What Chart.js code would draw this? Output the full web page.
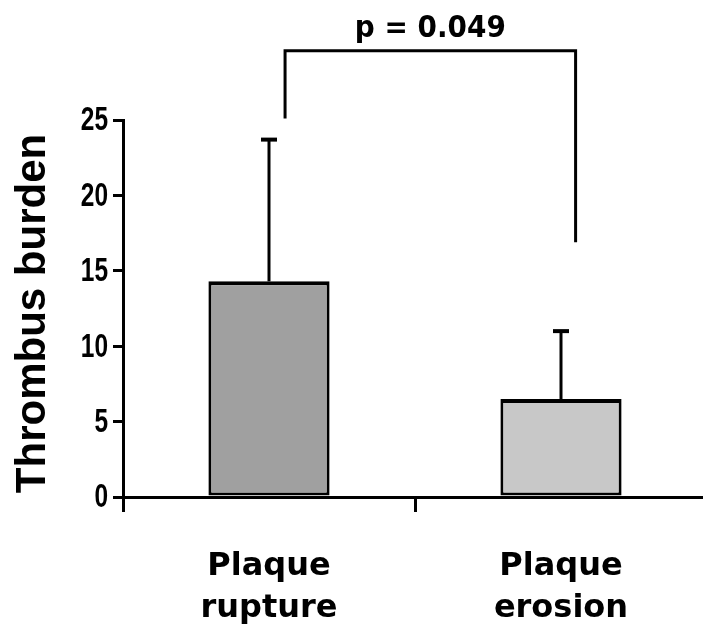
<!DOCTYPE html>
<html>
<head>
<meta charset="utf-8">
<script src="https://cdn.jsdelivr.net/npm/chart.js@4/dist/chart.umd.min.js"></script>
<style>
  html, body { margin: 0; padding: 0; background: #fff; overflow: hidden; }
  #wrap { width: 707px; height: 637px; }
</style>
</head>
<body>
<div id="wrap"><canvas id="thrombusChart" width="707" height="637"></canvas></div>
<script>
// data
const categories = [["Plaque", "rupture"], ["Plaque", "erosion"]];
const meanBurden = [14.3, 6.5];
const sdBurden = [9.4, 4.5];
const barColors = ["#a0a0a0", "#c8c8c8"];
const yTicks = [0, 5, 10, 15, 20, 25];
const yTitle = "Thrombus burden";

// significance bracket (x in category units, y in data units)
const bracketX = [0.055, 1.05];
const bracketEnds = [25.1, 16.9];
const bracketTop = 29.6;
const pLabel = "p = 0.049";
const pLabelY = 31.05;

const arial = "'Liberation Sans', Arial, sans-serif";

// upper error whiskers
const errorBars = {
  id: "errorBars",
  afterDatasetsDraw(chart) {
    const ctx = chart.ctx;
    const x = chart.scales.x, y = chart.scales.y;
    ctx.save();
    ctx.strokeStyle = "#000";
    meanBurden.forEach((m, i) => {
      const px = x.getPixelForValue(i);
      const top = y.getPixelForValue(m + sdBurden[i]);
      ctx.lineWidth = 3;
      ctx.beginPath();
      ctx.moveTo(px, y.getPixelForValue(m));
      ctx.lineTo(px, top);
      ctx.stroke();
      ctx.lineWidth = 4;
      ctx.beginPath();
      ctx.moveTo(px - 8, top);
      ctx.lineTo(px + 8, top);
      ctx.stroke();
    });
    ctx.restore();
  },
};

// narrow y tick labels (squeezed Arial, like the original) + axis title
const yLabels = {
  id: "yLabels",
  afterDraw(chart) {
    const ctx = chart.ctx;
    const y = chart.scales.y;
    const area = chart.chartArea;
    ctx.save();
    ctx.fillStyle = "#000";
    ctx.font = "bold 34px " + arial;
    ctx.textAlign = "right";
    ctx.textBaseline = "middle";
    yTicks.forEach((v) => {
      ctx.save();
      ctx.translate(y.right - 15, y.getPixelForValue(v) + 1);
      ctx.scale(0.72, 1);
      ctx.fillText(String(v), 0, 0);
      ctx.restore();
    });
    // title, a little below the axis middle as in the source figure
    ctx.font = "bold 42px " + arial;
    ctx.textAlign = "center";
    ctx.textBaseline = "alphabetic";
    ctx.translate(45, (area.top + area.bottom) / 2 + 5);
    ctx.rotate(-Math.PI / 2);
    ctx.fillText(yTitle, 0, 0);
    ctx.restore();
  },
};

// p-value bracket above the bars
const pBracket = {
  id: "pBracket",
  afterDraw(chart) {
    const ctx = chart.ctx;
    const x = chart.scales.x, y = chart.scales.y;
    const x1 = x.getPixelForValue(bracketX[0]);
    const x2 = x.getPixelForValue(bracketX[1]);
    const yt = y.getPixelForValue(bracketTop);
    ctx.save();
    ctx.strokeStyle = "#000";
    ctx.lineWidth = 3;
    ctx.beginPath();
    ctx.moveTo(x1, y.getPixelForValue(bracketEnds[0]));
    ctx.lineTo(x1, yt);
    ctx.lineTo(x2, yt);
    ctx.lineTo(x2, y.getPixelForValue(bracketEnds[1]));
    ctx.stroke();
    ctx.fillStyle = "#000";
    ctx.font = "bold 31px 'DejaVu Sans Condensed', 'DejaVu Sans', sans-serif";
    ctx.textAlign = "center";
    ctx.textBaseline = "middle";
    ctx.fillText(pLabel, (x1 + x2) / 2, y.getPixelForValue(pLabelY));
    ctx.restore();
  },
};

new Chart(document.getElementById("thrombusChart"), {
  type: "bar",
  data: {
    labels: categories,
    datasets: [
      {
        data: meanBurden,
        backgroundColor: barColors,
        borderColor: "#000",
        borderWidth: { top: 4, left: 3, right: 3, bottom: 3 },
        borderSkipped: false,
        barPercentage: 0.83,
        categoryPercentage: 0.5,
      },
    ],
  },
  options: {
    responsive: false,
    animation: false,
    layout: { padding: { top: 120, left: 0, right: 0, bottom: 0 } },
    plugins: { legend: { display: false }, tooltip: { enabled: false } },
    scales: {
      x: {
        offset: true,
        border: { color: "#000", width: 3 },
        grid: {
          offset: true,
          drawOnChartArea: false,
          color: "#000",
          lineWidth: 3,
          tickLength: 15,
        },
        ticks: {
          color: "#000",
          padding: 34,
          font: { family: "'DejaVu Sans', sans-serif", size: 32, weight: "bold", lineHeight: 1.3 },
          maxRotation: 0,
        },
        afterFit(scale) { scale.height = 140; },
      },
      y: {
        min: 0,
        max: 25,
        border: { color: "#000", width: 3 },
        grid: {
          drawOnChartArea: false,
          color: "#000",
          lineWidth: 3,
          tickLength: 10,
        },
        afterBuildTicks(scale) { scale.ticks = yTicks.map((v) => ({ value: v })); },
        ticks: { display: false },
        afterFit(scale) { scale.width = 123; },
      },
    },
  },
  plugins: [errorBars, yLabels, pBracket],
});
</script>
</body>
</html>
